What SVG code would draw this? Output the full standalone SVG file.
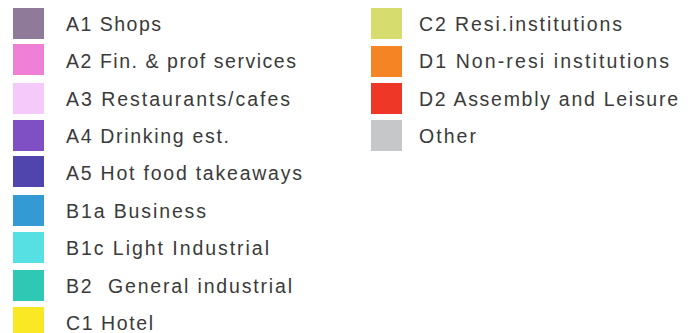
<svg xmlns="http://www.w3.org/2000/svg" width="697" height="333" viewBox="0 0 697 333">
<style>
text{font-family:"Liberation Sans",Arial,sans-serif;font-size:19.5px;fill:#3a3a3a;white-space:pre}
</style>
<rect width="697" height="333" fill="#ffffff"/>
<g id="a1"><rect x="13" y="8" width="31" height="31" fill="#8f7a99"/><text x="66" y="31" textLength="95" lengthAdjust="spacing">A1 Shops</text></g>
<g id="a2"><rect x="13" y="44" width="31" height="31" fill="#f080d5"/><text x="66" y="67.5" textLength="230" lengthAdjust="spacing">A2 Fin. &amp; prof services</text></g>
<g id="a3"><rect x="13" y="83" width="31" height="31" fill="#f5c9f9"/><text x="66" y="106" textLength="224" lengthAdjust="spacing">A3 Restaurants/cafes</text></g>
<g id="a4"><rect x="13" y="120" width="31" height="31" fill="#7f50c4"/><text x="66" y="143" textLength="163" lengthAdjust="spacing">A4 Drinking est.</text></g>
<g id="a5"><rect x="13" y="156" width="31" height="31" fill="#4f45ac"/><text x="66" y="180" textLength="236" lengthAdjust="spacing">A5 Hot food takeaways</text></g>
<g id="b1a"><rect x="13" y="195" width="31" height="31" fill="#349ad4"/><text x="66" y="217.5" textLength="140" lengthAdjust="spacing">B1a Business</text></g>
<g id="b1c"><rect x="13" y="232" width="31" height="31" fill="#56e0e3"/><text x="66" y="255" textLength="203" lengthAdjust="spacing">B1c Light Industrial</text></g>
<g id="b2"><rect x="13" y="270" width="31" height="31" fill="#2fc8b5"/><text x="66" y="292.5" textLength="226" lengthAdjust="spacing">B2  General industrial</text></g>
<g id="c1"><rect x="13" y="307" width="31" height="31" fill="#f8e924"/><text x="66" y="330" textLength="87" lengthAdjust="spacing">C1 Hotel</text></g>
<g id="c2"><rect x="371" y="8" width="31" height="31" fill="#d6dc6d"/><text x="419" y="31" textLength="203" lengthAdjust="spacing">C2 Resi.institutions</text></g>
<g id="d1"><rect x="371" y="46" width="31" height="31" fill="#f58425"/><text x="419" y="68" textLength="250" lengthAdjust="spacing">D1 Non-resi institutions</text></g>
<g id="d2"><rect x="371" y="83" width="31" height="31" fill="#ee3727"/><text x="419" y="106" textLength="259" lengthAdjust="spacing">D2 Assembly and Leisure</text></g>
<g id="other"><rect x="371" y="120" width="31" height="31" fill="#c6c7c9"/><text x="419" y="143" textLength="57" lengthAdjust="spacing">Other</text></g>
<g id="connectors"/>
</svg>
